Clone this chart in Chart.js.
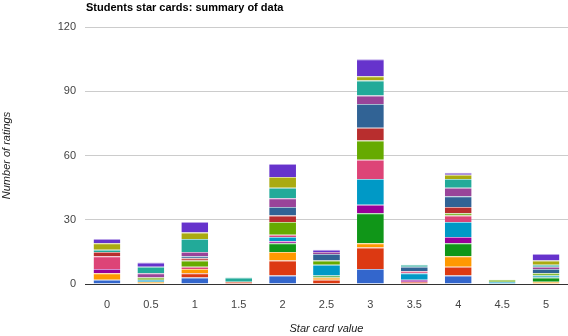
<!DOCTYPE html>
<html>
<head>
<meta charset="utf-8">
<script src="https://cdn.jsdelivr.net/npm/chart.js@4/dist/chart.umd.min.js"></script>
<style>
  html, body { margin: 0; padding: 0; background: #fff; }
  #wrap { width: 568px; height: 336px; }
</style>
</head>
<body>
<div id="wrap"><canvas id="chart" width="568" height="336"></canvas></div>
<script>
'use strict';

const starValues = ['0', '0.5', '1', '1.5', '2', '2.5', '3', '3.5', '4', '4.5', '5'];
const yTicks = [0, 30, 60, 90, 120];

// one row of ratings per student, counted for each star card value
const student1 = [2, 0, 3, 0, 4, 0, 7, 0, 4, 0, 0];
const student2 = [0, 0, 2, 1, 7, 2, 10, 1, 4, 0, 0];
const student3 = [3, 1, 2, 0, 4, 1, 2, 0, 5, 0, 1];
const student4 = [0, 0, 0, 0, 4, 1, 14, 0, 6, 0, 2];
const student5 = [2, 0, 0, 0, 1, 0, 4, 1, 3, 0, 0];
const student6 = [0, 1, 0, 0, 2, 5, 12, 3, 7, 1, 1];
const student7 = [6, 0, 1, 0, 1, 0, 9, 1, 3, 0, 0];
const student8 = [0, 1, 3, 0, 6, 2, 9, 0, 1, 1, 1];
const student9 = [2, 0, 1, 0, 3, 0, 6, 0, 3, 0, 0];
const student10 = [0, 0, 1, 0, 4, 3, 11, 2, 5, 0, 2];
const student11 = [0, 2, 2, 0, 4, 1, 4, 0, 4, 0, 1];
const student12 = [1, 3, 6, 2, 5, 0, 7, 1, 4, 0, 1];
const student13 = [3, 0, 3, 0, 5, 0, 2, 0, 2, 0, 2];
const student14 = [2, 2, 5, 0, 6, 1, 8, 0, 1, 0, 3];

const students = [student1, student2, student3, student4, student5, student6, student7,
  student8, student9, student10, student11, student12, student13, student14];

const colors = ['#3366cc', '#dc3912', '#ff9900', '#109618', '#990099', '#0099c6', '#dd4477',
  '#66aa00', '#b82e2e', '#316395', '#994499', '#22aa99', '#aaaa11', '#6633cc'];

// paler version of a colour for the thin line between stacked pieces
function tint(hex, amt) {
  const n = parseInt(hex.slice(1), 16);
  const r = (n >> 16) & 255, g = (n >> 8) & 255, b = n & 255;
  const mix = c => Math.round(c + (255 - c) * amt);
  return 'rgb(' + mix(r) + ',' + mix(g) + ',' + mix(b) + ')';
}

const datasets = students.map((rows, i) => ({
  label: 'Student ' + (i + 1),
  data: rows.map(v => (v === 0 ? null : v)), // empty slots draw nothing
  backgroundColor: colors[i],
  borderColor: tint(colors[i], 0.55),
  borderWidth: { top: 1, right: 0, bottom: 0, left: 0 },
  borderSkipped: false,
  categoryPercentage: 1,
  barPercentage: 0.61
}));

// chart title sits left-aligned over the plot area
const titlePlugin = {
  id: 'leftTitle',
  afterDraw(chart) {
    const ctx = chart.ctx;
    ctx.save();
    ctx.font = 'bold 11px "Liberation Sans", Arial, sans-serif';
    ctx.fillStyle = '#000';
    ctx.textBaseline = 'middle';
    ctx.textAlign = 'left';
    ctx.fillText('Students star cards: summary of data', 86, 8);
    ctx.restore();
  }
};

const canvasEl = document.getElementById('chart');

new Chart(canvasEl, {
  type: 'bar',
  data: { labels: starValues, datasets: datasets },
  plugins: [titlePlugin],
  options: {
    responsive: false,
    animation: false,
    layout: { padding: { top: 27, right: 0, left: 0, bottom: 0 } },
    plugins: {
      legend: { display: false },
      title: { display: false },
      tooltip: { enabled: false }
    },
    scales: {
      x: {
        stacked: true,
        grid: { display: false },
        border: { display: false },
        ticks: {
          color: '#444',
          padding: 6,
          maxRotation: 0,
          font: { family: '"Liberation Sans", Arial, sans-serif', size: 11 }
        },
        title: {
          display: true,
          text: 'Star card value',
          color: '#222',
          padding: { top: 0, bottom: 0 },
          font: { family: '"Liberation Sans", Arial, sans-serif', size: 11, style: 'italic' }
        },
        afterFit(scale) { scale.height = 52; }
      },
      y: {
        stacked: true,
        min: 0,
        max: 120,
        afterBuildTicks(scale) { scale.ticks = yTicks.map(v => ({ value: v })); },
        grid: {
          drawTicks: false,
          color: c => (c.tick && c.tick.value === 0 ? '#333' : '#cccccc')
        },
        border: { display: false },
        ticks: {
          color: '#444',
          padding: 9,
          font: { family: '"Liberation Sans", Arial, sans-serif', size: 11 }
        },
        title: {
          display: true,
          text: 'Number of ratings',
          color: '#222',
          padding: { top: 0, bottom: 0 },
          font: { family: '"Liberation Sans", Arial, sans-serif', size: 11, style: 'italic' }
        },
        afterFit(scale) { scale.width = 85; }
      }
    }
  }
});
</script>
</body>
</html>
